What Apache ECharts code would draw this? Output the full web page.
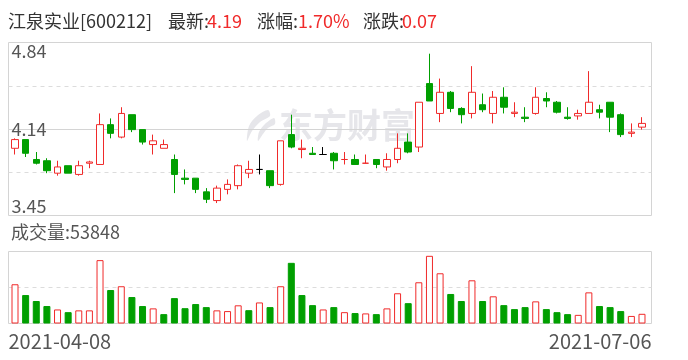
<!DOCTYPE html>
<html><head><meta charset="utf-8">
<script src="https://cdn.jsdelivr.net/npm/echarts@6/dist/echarts.min.js"></script>
<style>html,body{margin:0;padding:0;background:#fff}#c{width:688px;height:360px}</style>
</head><body><div id="c"></div>
<script>
const stockName = '江泉实业';
const stockCode = '600212';
const dates = [
  '2021-04-08','2021-04-09','2021-04-12','2021-04-13','2021-04-14','2021-04-15','2021-04-16',
  '2021-04-19','2021-04-20','2021-04-21','2021-04-22','2021-04-23','2021-04-26','2021-04-27',
  '2021-04-28','2021-04-29','2021-04-30','2021-05-06','2021-05-07','2021-05-10','2021-05-11',
  '2021-05-12','2021-05-13','2021-05-14','2021-05-17','2021-05-18','2021-05-19','2021-05-20',
  '2021-05-21','2021-05-24','2021-05-25','2021-05-26','2021-05-27','2021-05-28','2021-05-31',
  '2021-06-01','2021-06-02','2021-06-03','2021-06-04','2021-06-07','2021-06-08','2021-06-09',
  '2021-06-10','2021-06-11','2021-06-15','2021-06-16','2021-06-17','2021-06-18','2021-06-21',
  '2021-06-22','2021-06-23','2021-06-24','2021-06-25','2021-06-28','2021-06-29','2021-06-30',
  '2021-07-01','2021-07-02','2021-07-05','2021-07-06'];
const opens = [
  3.99,4.06,3.90,3.89,3.79,3.85,3.78,3.87,3.86,4.18,
  4.08,4.26,4.14,4.02,3.99,3.90,3.75,3.75,3.64,3.57,
  3.66,3.69,3.79,3.82,3.81,3.70,4.10,3.98,3.95,3.94,
  3.95,3.90,3.90,3.87,3.90,3.84,3.90,4.04,4.00,4.51,
  4.27,4.44,4.31,4.27,4.34,4.27,4.40,4.27,4.24,4.27,
  4.39,4.36,4.24,4.25,4.27,4.30,4.36,4.26,4.11,4.16];
const closes = [
  4.06,3.95,3.87,3.81,3.84,3.79,3.85,3.88,4.18,4.11,
  4.27,4.14,4.04,4.05,4.02,3.78,3.74,3.66,3.58,3.67,
  3.70,3.85,3.82,3.82,3.69,4.05,4.00,3.99,3.94,3.94,
  3.89,3.90,3.86,3.87,3.86,3.90,3.99,3.96,4.36,4.37,
  4.44,4.31,4.26,4.44,4.30,4.40,4.32,4.28,4.23,4.40,
  4.37,4.28,4.23,4.27,4.36,4.28,4.24,4.10,4.12,4.19];
const lows = [
  3.94,3.92,3.86,3.79,3.77,3.79,3.77,3.83,3.86,4.07,
  4.07,4.12,4.02,3.94,3.99,3.63,3.70,3.63,3.55,3.55,
  3.62,3.66,3.75,3.78,3.67,3.69,3.99,3.91,3.94,3.94,
  3.82,3.86,3.86,3.87,3.83,3.81,3.87,3.95,3.96,4.37,
  4.20,4.28,4.19,4.23,4.28,4.19,4.27,4.24,4.20,4.26,
  4.32,4.27,4.22,4.22,4.27,4.23,4.12,4.08,4.08,4.14];
const highs = [
  4.07,4.06,3.96,3.91,3.89,3.85,3.89,3.89,4.27,4.23,
  4.32,4.26,4.14,4.10,4.06,3.94,3.82,3.75,3.67,3.69,
  3.74,3.86,3.89,3.94,3.81,4.05,4.26,4.06,4.00,4.00,
  3.96,3.96,3.94,3.94,3.90,3.95,4.11,4.11,4.36,4.75,
  4.55,4.45,4.32,4.65,4.43,4.45,4.48,4.36,4.32,4.48,
  4.44,4.37,4.32,4.30,4.61,4.34,4.36,4.27,4.19,4.24];
const volumes = [
  218000,158000,125000,97000,78000,63000,73000,73000,352000,186000,
  207000,147000,97000,84000,52000,141000,85000,108000,91000,73000,
  69000,101000,74000,117000,91000,207000,337000,158000,102000,78000,
  91000,63000,58000,56000,52000,84000,168000,113000,229000,376000,
  279000,164000,125000,240000,125000,151000,102000,80000,91000,123000,
  80000,63000,52000,48000,173000,97000,91000,69000,42000,53848];
const priceTickLabels = ['3.45','','4.14','','4.84'];
const priceMin = 3.45, priceMax = 4.84, volumeMax = 400000;

const UP = '#f02a2a', DOWN = '#009f00', NEUTRAL = '#000000';
const FONT = '"Microsoft YaHei","Noto Sans CJK SC",sans-serif';
const TXT = '#333333', AXT = '#555555';

const n = closes.length;
const candleData = dates.map((d, i) => {
  const o = opens[i], c = closes[i];
  const item = { value: [o, c, lows[i], highs[i]] };
  if (o === c && i > 0 && c === closes[i - 1]) {
    item.itemStyle = { color: NEUTRAL, color0: NEUTRAL, borderColor: NEUTRAL, borderColor0: NEUTRAL, borderColorDoji: NEUTRAL };
  }
  return item;
});
const volData = volumes.map((v, i) => {
  const up = i === 0 ? closes[i] >= opens[i] : closes[i] >= closes[i - 1];
  return { value: v, itemStyle: up ? { color: '#ffffff', borderColor: UP, borderWidth: 1 } : { color: DOWN, borderColor: DOWN, borderWidth: 1 } };
});
const last = closes[n - 1], prev = closes[n - 2];
const chg = last - prev;
const pct = chg / prev * 100;

const chart = echarts.init(document.getElementById('c'), null, { renderer: 'canvas' });
chart.setOption({
  animation: false,
  backgroundColor: '#ffffff',
  grid: [
    { left: 8.5, top: 42.5, width: 643, height: 173, show: true, borderColor: '#d4d4d4', borderWidth: 1, backgroundColor: 'transparent' },
    { left: 9.7, top: 42.5, width: 637.6, height: 173 },
    { left: 8.5, top: 251.5, width: 643, height: 72, show: true, borderColor: '#d4d4d4', borderWidth: 1, backgroundColor: 'transparent' },
    { left: 9.7, top: 251.5, width: 637.6, height: 72 }
  ],
  xAxis: [
    { gridIndex: 0, type: 'value', min: 0, max: 1, show: false },
    { gridIndex: 1, type: 'category', data: dates, boundaryGap: true, show: false },
    { gridIndex: 2, type: 'value', min: 0, max: 1, interval: 1,
      axisLine: { show: false }, axisTick: { show: false }, splitLine: { show: false },
      axisLabel: { show: true, margin: 8, fontSize: 20, fontFamily: FONT, color: AXT,
        alignMinLabel: 'left', alignMaxLabel: 'right',
        formatter: v => (v === 0 ? dates[0] : dates[n - 1]) } },
    { gridIndex: 3, type: 'category', data: dates, boundaryGap: true, show: false }
  ],
  yAxis: [
    { gridIndex: 0, type: 'value', min: 0, max: 4, interval: 1,
      axisLine: { show: false }, axisTick: { show: false },
      splitLine: { show: true, showMinLine: false, showMaxLine: false, lineStyle: { color: '#dcdcdc', type: [4, 4], width: 1 } },
      axisLabel: { show: true, inside: true, margin: 3, fontSize: 18, fontFamily: FONT, color: AXT,
        verticalAlignMinLabel: 'bottom', verticalAlignMaxLabel: 'top',
        formatter: v => priceTickLabels[v] } },
    { gridIndex: 0, type: 'value', min: 0, max: 2, interval: 1,
      axisLine: { show: false }, axisTick: { show: false }, axisLabel: { show: false },
      splitLine: { show: true, showMinLine: false, showMaxLine: false, lineStyle: { color: '#d4d4d4', type: 'solid', width: 1 } } },
    { gridIndex: 1, type: 'value', min: priceMin, max: priceMax, show: false, splitLine: { show: false } },
    { gridIndex: 2, type: 'value', min: 0, max: 2, interval: 1,
      axisLine: { show: false }, axisTick: { show: false }, axisLabel: { show: false },
      splitLine: { show: true, showMinLine: false, showMaxLine: false, lineStyle: { color: '#dcdcdc', type: [4, 4], width: 1 } } },
    { gridIndex: 3, type: 'value', min: 0, max: volumeMax, show: false, splitLine: { show: false } }
  ],
  series: [
    { type: 'candlestick', xAxisIndex: 1, yAxisIndex: 2, data: candleData, barWidth: 7,
      itemStyle: { color: '#ffffff', color0: DOWN, borderColor: UP, borderColor0: DOWN, borderWidth: 1 } },
    { type: 'bar', xAxisIndex: 3, yAxisIndex: 4, data: volData, barWidth: 7 }
  ],
  graphic: [
    { type: 'polygon', z: 0, shape: { points: [[268,110],[257,116],[249,126],[247,141],[252,131],[260,122],[270,116]], smooth: 0.3 },
      style: { fill: '#e6e6ea' } },
    { type: 'polygon', z: 0, shape: { points: [[274,118],[265,124],[259,132],[258,141],[263,134],[268,128],[275,124]], smooth: 0.3 },
      style: { fill: '#e6e6ea' } },
    { type: 'text', z: 0, x: 279, y: 125, style: { text: '东方财富', font: 'bold 34px ' + FONT, fill: '#e6e6ea', verticalAlign: 'middle' } },
    { type: 'text', x: 8, y: 21.5, style: { text: stockName + '[' + stockCode + ']', font: '18px ' + FONT, fill: TXT, verticalAlign: 'middle' } },
    { type: 'text', x: 168, y: 21.5, style: { text: '最新:', font: '18px ' + FONT, fill: TXT, verticalAlign: 'middle' } },
    { type: 'text', x: 207, y: 21.5, style: { text: last.toFixed(2), font: '18px ' + FONT, fill: UP, verticalAlign: 'middle' } },
    { type: 'text', x: 257, y: 21.5, style: { text: '涨幅:', font: '18px ' + FONT, fill: TXT, verticalAlign: 'middle' } },
    { type: 'text', x: 298, y: 21.5, style: { text: pct.toFixed(2) + '%', font: '18px ' + FONT, fill: UP, verticalAlign: 'middle' } },
    { type: 'text', x: 363, y: 21.5, style: { text: '涨跌:', font: '18px ' + FONT, fill: TXT, verticalAlign: 'middle' } },
    { type: 'text', x: 402, y: 21.5, style: { text: chg.toFixed(2), font: '18px ' + FONT, fill: UP, verticalAlign: 'middle' } },
    { type: 'text', x: 11, y: 232.5, style: { text: '成交量:' + volumes[n - 1], font: '18px ' + FONT, fill: AXT, verticalAlign: 'middle' } }
  ]
});
</script></body></html>
